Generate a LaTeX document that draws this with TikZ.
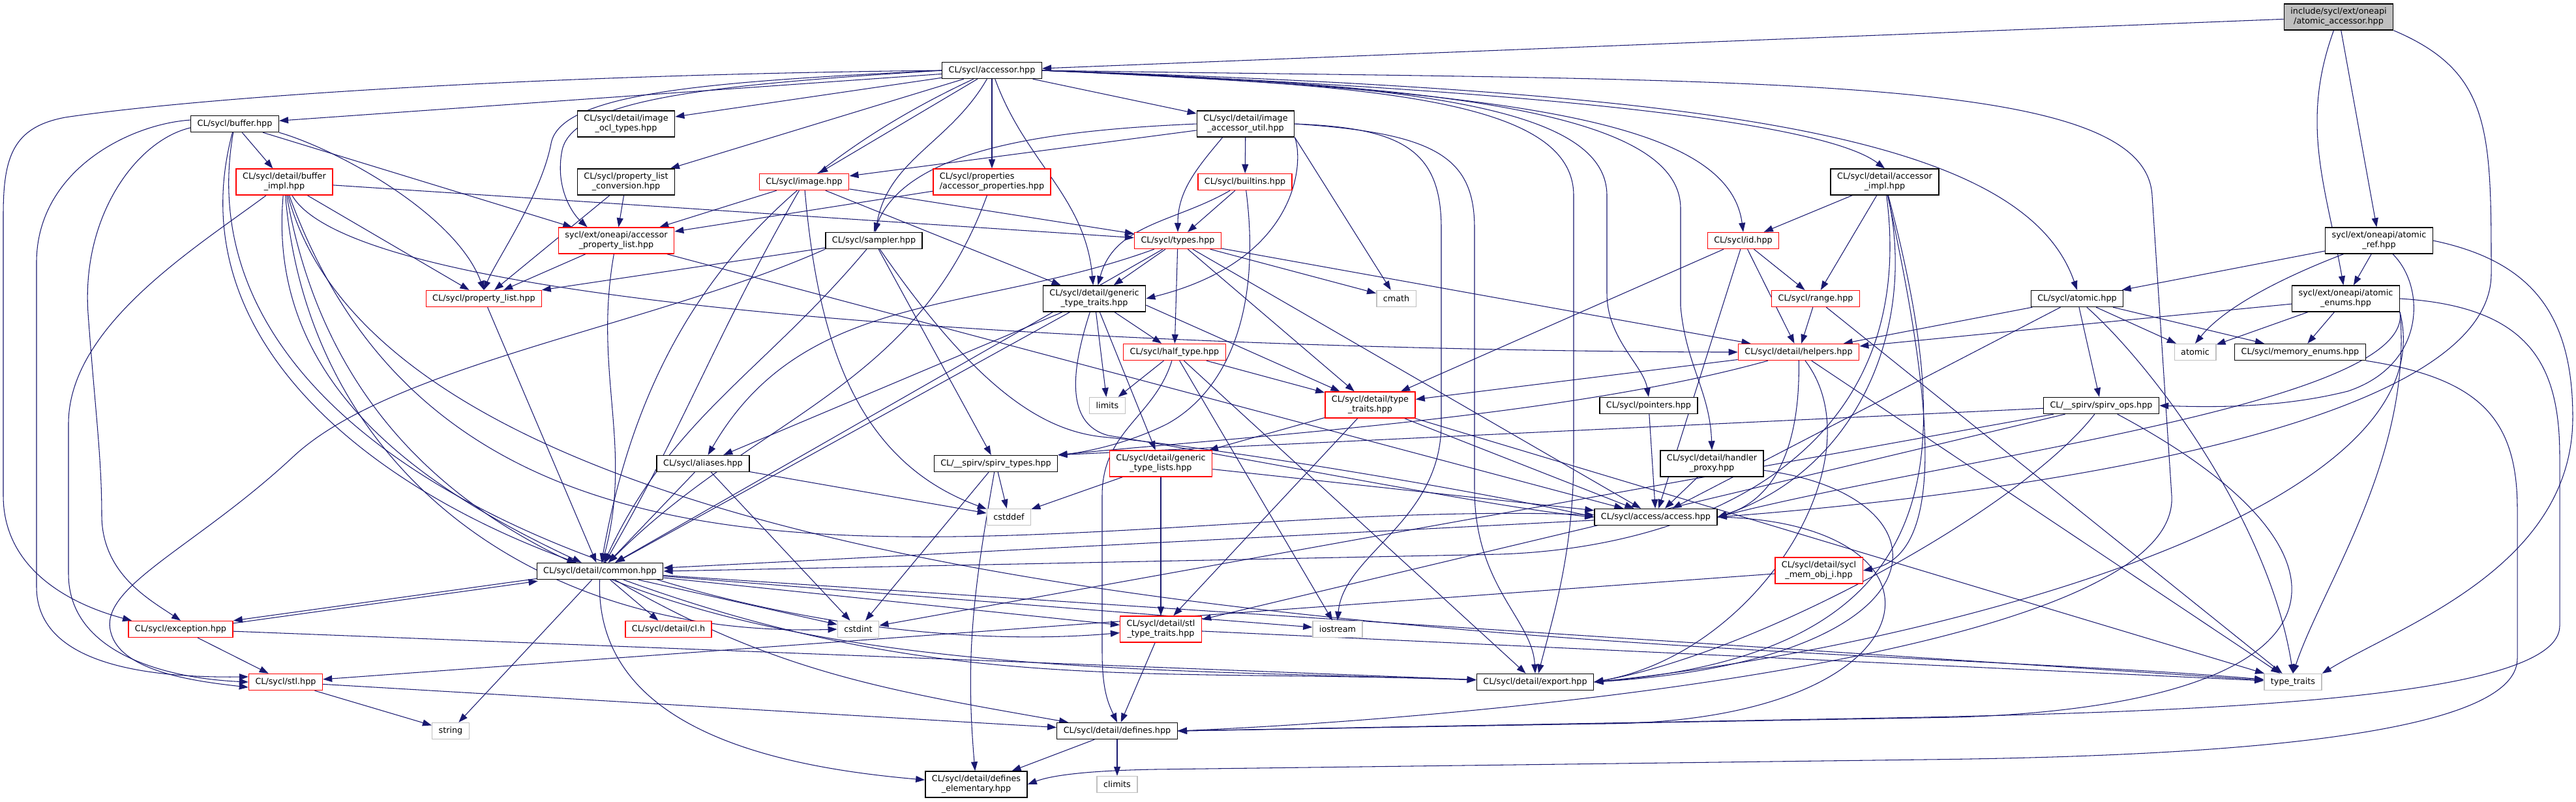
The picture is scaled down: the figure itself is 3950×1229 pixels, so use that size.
\documentclass[tikz,border=0pt]{standalone}
\usepackage{fontspec}
\setmainfont{DejaVu Sans}
\usetikzlibrary{arrows.meta}
\definecolor{edgeblue}{HTML}{191970}
\definecolor{sysgray}{HTML}{BFBFBF}
\pgfdeclarelayer{edges}
\pgfsetlayers{edges,main}

\begin{document}
\begin{tikzpicture}[x=0.01cm,y=-0.01cm,
  every node/.style={font=\fontsize{3.63pt}{4.27pt}\selectfont},
  hdr/.style={draw=black,line width=0.4pt,fill=white,inner xsep=0.1cm,inner ysep=0pt,minimum height=0.25cm,align=center},
  hdr2/.style={hdr,minimum height=0.40cm},
  cut/.style={draw=red},
  sys/.style={draw=sysgray},
  inc/.style={draw=edgeblue,line width=0.3pt,-{Triangle[length=0.14cm,width=0.1cm]}}]
\useasboundingbox (0,0) rectangle (3950,1229);

\node[hdr2,fill=sysgray] (root) at (3586,26) {include/sycl/ext/oneapi\\/atomic\_accessor.hpp};
\node[hdr] (accessor) at (1521,108) {CL/sycl/accessor.hpp};
\node[hdr] (buffer) at (360,190) {CL/sycl/buffer.hpp};
\node[hdr2] (imgocl) at (960,190) {CL/sycl/detail/image\\\_ocl\_types.hpp};
\node[hdr2] (imgutil) at (1910,190) {CL/sycl/detail/image\\\_accessor\_util.hpp};
\node[hdr2,cut] (bimpl) at (436,279) {CL/sycl/detail/buffer\\\_impl.hpp};
\node[hdr2] (plconv) at (960,279) {CL/sycl/property\_list\\\_conversion.hpp};
\node[hdr,cut] (image) at (1233,279) {CL/sycl/image.hpp};
\node[hdr2,cut,align=left] (accprops) at (1521,279) {CL/sycl/properties\\/accessor\_properties.hpp};
\node[hdr,cut] (builtins) at (1909,279) {CL/sycl/builtins.hpp};
\node[hdr2] (accimpl) at (2890,279) {CL/sycl/detail/accessor\\\_impl.hpp};
\node[hdr2,cut] (aplist) at (945,369) {sycl/ext/oneapi/accessor\\\_property\_list.hpp};
\node[hdr] (sampler) at (1340,369) {CL/sycl/sampler.hpp};
\node[hdr,cut] (types) at (1806,369) {CL/sycl/types.hpp};
\node[hdr,cut] (id) at (2673,369) {CL/sycl/id.hpp};
\node[hdr2] (atomicref) at (3648,369) {sycl/ext/oneapi/atomic\\\_ref.hpp};
\node[hdr,cut] (plist) at (742,458) {CL/sycl/property\_list.hpp};
\node[hdr2] (gtt) at (1678,458) {CL/sycl/detail/generic\\\_type\_traits.hpp};
\node[hdr,sys] (cmath) at (2141,458) {cmath};
\node[hdr,cut] (range) at (2784,458) {CL/sycl/range.hpp};
\node[hdr] (atomich) at (3185,458) {CL/sycl/atomic.hpp};
\node[hdr2] (atomicenums) at (3597,458) {sycl/ext/oneapi/atomic\\\_enums.hpp};
\node[hdr,cut] (halftype) at (1801,540) {CL/sycl/half\_type.hpp};
\node[hdr,cut] (helpers) at (2758,540) {CL/sycl/detail/helpers.hpp};
\node[hdr,sys] (atomic) at (3366,540) {atomic};
\node[hdr] (memenums) at (3527,540) {CL/sycl/memory\_enums.hpp};
\node[hdr,sys] (limits) at (1698,622) {limits};
\node[hdr2,cut] (dtt) at (2101,621) {CL/sycl/detail/type\\\_traits.hpp};
\node[hdr] (pointers) at (2528,622) {CL/sycl/pointers.hpp};
\node[hdr] (spirvops) at (3222,622) {CL/\_\_spirv/spirv\_ops.hpp};
\node[hdr] (aliases) at (1078,711) {CL/sycl/aliases.hpp};
\node[hdr] (spirvtypes) at (1527,711) {CL/\_\_spirv/spirv\_types.hpp};
\node[hdr2,cut] (gtl) at (1780,711) {CL/sycl/detail/generic\\\_type\_lists.hpp};
\node[hdr2] (hproxy) at (2625,711) {CL/sycl/detail/handler\\\_proxy.hpp};
\node[hdr,sys] (cstddef) at (1547,793) {cstddef};
\node[hdr] (access) at (2539,793) {CL/sycl/access/access.hpp};
\node[hdr] (common) at (920,876) {CL/sycl/detail/common.hpp};
\node[hdr2,cut] (memobj) at (2789,875) {CL/sycl/detail/sycl\\\_mem\_obj\_i.hpp};
\node[hdr,cut] (exception) at (277,965) {CL/sycl/exception.hpp};
\node[hdr,cut] (clh) at (1025,965) {CL/sycl/detail/cl.h};
\node[hdr,sys] (cstdint) at (1316,965) {cstdint};
\node[hdr2,cut] (stltt) at (1780,965) {CL/sycl/detail/stl\\\_type\_traits.hpp};
\node[hdr,sys] (iostream) at (2051,965) {iostream};
\node[hdr,cut] (stl) at (438,1046) {CL/sycl/stl.hpp};
\node[hdr] (export) at (2354,1046) {CL/sycl/detail/export.hpp};
\node[hdr,sys] (typetraits) at (3516,1046) {type\_traits};
\node[hdr,sys] (string) at (691,1121) {string};
\node[hdr] (defines) at (1713,1121) {CL/sycl/detail/defines.hpp};
\node[hdr2] (defel) at (1497,1203) {CL/sycl/detail/defines\\\_elementary.hpp};
\node[hdr,sys] (climits) at (1713,1203) {climits};

\begin{pgfonlayer}{edges}
% root
\draw[inc] (root) -- (accessor);
\draw[inc] (root) -- (atomicref);
\draw[inc] (root) to[out=-110,in=100] (atomicenums);
\draw[inc] (root.south east) .. controls (3820,110) and (3820,200) .. (3820,420) .. controls (3820,700) and (2800,780) .. (access.east);
% accessor
\draw[inc] (accessor) -- (buffer);
\draw[inc] (accessor) -- (imgocl);
\draw[inc] (accessor) -- (imgutil);
\draw[inc] (accessor) -- (plconv);
\draw[inc] (accessor) -- (image);
\draw[inc] (accessor) -- (accprops);
\draw[inc] (accessor) to[out=-120,in=80] (sampler);
\draw[inc] (accessor) to[out=-70,in=95] (gtt);
\draw[inc] (accessor.west) .. controls (1100,125) and (860,140) .. (845,220) .. controls (830,300) and (760,400) .. (plist.north);
\draw[inc] (accessor.west) .. controls (1100,130) and (880,150) .. (862,230) .. controls (850,290) and (880,330) .. (aplist.155);
\draw[inc] (accessor) to[out=-155,in=80] (common);
\draw[inc] (accessor.west) .. controls (800,115) and (300,150) .. (100,180) .. controls (20,195) and (5,240) .. (5,330) -- (5,760) .. controls (5,880) and (120,930) .. (exception.170);
\draw[inc] (accessor.east) .. controls (2300,140) and (2650,180) .. (id.north);
\draw[inc] (accessor.east) .. controls (2400,140) and (2800,190) .. (accimpl.north);
\draw[inc] (accessor.east) .. controls (2600,140) and (3100,200) .. (atomich.north);
\draw[inc] (accessor.east) .. controls (2150,128) and (2464,160) .. (2464,300) -- (2464,450) .. controls (2464,520) and (2520,560) .. (pointers.north);
\draw[inc] (accessor.east) .. controls (2200,130) and (2577,170) .. (2577,320) -- (2577,470) .. controls (2585,560) and (2622,600) .. (hproxy.north);
\draw[inc] (accessor.east) .. controls (2100,130) and (2413,150) .. (2413,300) -- (2413,700) .. controls (2413,850) and (2380,950) .. ([xshift=0.05cm]export.north);
\draw[inc] (accessor.east) .. controls (2700,125) and (3290,110) .. (3300,300) -- (3330,760) .. controls (3345,1000) and (2300,1100) .. (defines.east);
% image_accessor_util
\draw[inc] (imgutil) -- (builtins);
\draw[inc] ([xshift=0.4cm]imgutil.south west) to[out=-130,in=90] (types.north);
\draw[inc] (imgutil) -- (image);
\draw[inc] (imgutil.west) .. controls (1600,200) and (1390,230) .. (sampler.north);
\draw[inc] (imgutil.south east) .. controls (2000,250) and (1990,400) .. (gtt.east);
\draw[inc] (imgutil.south east) -- (cmath);
\draw[inc] (imgutil.east) .. controls (2150,196) and (2210,230) .. (2210,350) -- (2210,650) .. controls (2210,800) and (2060,850) .. (iostream.north);
\draw[inc] (imgutil.east) .. controls (2200,204) and (2261,240) .. (2261,350) -- (2261,750) .. controls (2261,900) and (2350,950) .. (export.north);
% buffer
\draw[inc] (buffer) -- (bimpl);
\draw[inc] (buffer) -- (aplist);
\draw[inc] (buffer.south east) .. controls (520,230) and (700,330) .. (plist.north);
\draw[inc] (buffer.185) .. controls (210,215) and (125,330) .. (135,480) .. controls (145,620) and (156,700) .. (156,790) .. controls (156,880) and (230,920) .. (exception.north);
\draw[inc] (buffer.175) .. controls (200,190) and (58,260) .. (56,400) -- (56,900) .. controls (56,1010) and (200,1040) .. (stl.172);
\draw[inc] (buffer) to[out=-105,in=160] (common);
\draw[inc] (buffer) to[out=-100,in=185,looseness=0.9] (stltt);
% buffer_impl
\draw[inc] (bimpl) -- (types);
\draw[inc] (bimpl) to[out=-60,in=180,looseness=0.3] (helpers);
\draw[inc] (bimpl) -- (plist);
\draw[inc] (bimpl) .. controls (300,380) and (105,500) .. (105,650) -- (105,880) .. controls (105,1000) and (250,1040) .. (stl.west);
\draw[inc] (bimpl) to[out=-95,in=155] (common);
\draw[inc] (bimpl) .. controls (470,700) and (800,980) .. (cstdint.west);
\draw[inc] (bimpl) to[out=-80,in=178] (export);
\draw[inc] (bimpl) to[out=-70,in=178] (access);
\draw[inc] (bimpl) to[out=-75,in=175,looseness=0.6] (typetraits);
% property lists
\draw[inc] (plconv) -- (plist);
\draw[inc] (plconv) -- (aplist);
\draw[inc] (aplist) -- (plist);
\draw[inc] (aplist) to[out=-100,in=75] (common);
\draw[inc] (aplist) -- (access);
\draw[inc] (plist) -- (common);
% image
\draw[inc] (image) -- (aplist);
\draw[inc] (image) -- (gtt);
\draw[inc] (image) -- (types);
\draw[inc] (image) to[out=-120,in=60] (common);
\draw[inc] (image) to[out=-85,in=160] (cstddef);
% sampler
\draw[inc] (sampler) -- (plist);
\draw[inc] (sampler.south west) .. controls (1000,500) and (600,560) .. (450,700) .. controls (300,840) and (150,900) .. (170,970) .. controls (185,1030) and (300,1045) .. (stl.188);
\draw[inc] (sampler) to[out=-130,in=65] (common);
\draw[inc] (sampler) -- (spirvtypes);
\draw[inc] (sampler) .. controls (1500,600) and (1600,660) .. (1690,670) .. controls (1900,690) and (2300,760) .. (access.west);
% accessor_properties, builtins
\draw[inc] (accprops) -- (aplist);
\draw[inc] (accprops) to[out=-110,in=45] (common);
\draw[inc] (builtins) -- (types);
\draw[inc] (builtins) to[out=-150,in=75] (gtt);
\draw[inc] (builtins) .. controls (1935,480) and (1880,600) .. (1790,650) .. controls (1720,685) and (1650,695) .. (spirvtypes.north east);
% accessor_impl
\draw[inc] (accimpl) -- (id);
\draw[inc] (accimpl) -- (range);
\draw[inc] (accimpl) .. controls (2940,500) and (2850,720) .. (access.east);
\draw[inc] (accimpl) .. controls (2960,600) and (2990,850) .. (memobj.east);
\draw[inc] (accimpl) .. controls (3000,700) and (3000,1000) .. (export.east);
\draw[inc] (accimpl) .. controls (2945,700) and (2600,840) .. (2300,850) -- (common.east);
% types
\draw[inc] (types) to[out=200,in=60] (aliases);
\draw[inc] (types) -- (common);
\draw[inc] (types) -- (gtt);
\draw[inc] (types) -- (halftype);
\draw[inc] (types) -- (cmath);
\draw[inc] (types) -- (helpers);
\draw[inc] (types) -- (dtt);
\draw[inc] (types) -- (access);
% generic_type_traits
\draw[inc] (gtt) -- (aliases);
\draw[inc] (gtt) -- (common);
\draw[inc] (gtt) -- (gtl);
\draw[inc] ([yshift=-0.1cm]gtt.east) -- (dtt);
\draw[inc] (gtt) -- (halftype);
\draw[inc] (gtt) -- (limits);
\draw[inc] (gtt) .. controls (1645,560) and (1630,650) .. (1700,668) .. controls (1900,700) and (2300,780) .. (access.west);
% half_type
\draw[inc] (halftype) -- (limits);
\draw[inc] (halftype) .. controls (1770,640) and (1690,660) .. (1690,760) -- (1690,1000) .. controls (1690,1060) and (1700,1080) .. (defines.north);
\draw[inc] (halftype) -- (iostream);
\draw[inc] (halftype) -- (export);
\draw[inc] (halftype) -- (dtt);
% id, range, helpers
\draw[inc] (id) -- (dtt);
\draw[inc] (id) -- (range);
\draw[inc] (id) -- (helpers);
\draw[inc] (id) -- (access);
\draw[inc] (range) -- (helpers);
\draw[inc] (range) -- (typetraits);
\draw[inc] (helpers) -- (dtt);
\draw[inc] (helpers) .. controls (2400,640) and (1900,670) .. (spirvtypes.north east);
\draw[inc] (helpers) .. controls (2760,650) and (2740,760) .. (access.east);
\draw[inc] (helpers) .. controls (2880,700) and (2700,1000) .. (export.east);
\draw[inc] (helpers) -- (typetraits);
% type traits and lists
\draw[inc] (dtt) -- (access);
\draw[inc] (dtt) -- (gtl);
\draw[inc] (dtt) -- (stltt);
\draw[inc] (dtt) -- (typetraits);
\draw[inc] (gtl) -- (cstddef);
\draw[inc] (gtl) -- (stltt);
\draw[inc] (gtl) -- (access);
\draw[inc] (aliases) -- (common);
\draw[inc] (aliases) -- (cstddef);
\draw[inc] (aliases) -- (cstdint);
% spirv
\draw[inc] (spirvtypes) -- (cstddef);
\draw[inc] (spirvtypes) -- (cstdint);
\draw[inc] (spirvtypes) to[out=-100,in=95] (defel);
\draw[inc] (spirvops) -- (spirvtypes.north east);
\draw[inc] (spirvops) -- (cstdint);
\draw[inc] (spirvops) -- (stltt);
\draw[inc] (spirvops) .. controls (3100,780) and (2700,1000) .. (export.east);
\draw[inc] (spirvops) .. controls (3650,850) and (3620,1080) .. (3000,1100) -- (defines.east);
% atomics
\draw[inc] (atomich) -- (atomic);
\draw[inc] (atomich) -- (memenums);
\draw[inc] (atomich) -- (spirvops);
\draw[inc] (atomich) -- (helpers);
\draw[inc] (atomich) -- (access);
\draw[inc] (atomich) .. controls (3300,560) and (3480,800) .. (typetraits.north);
\draw[inc] (atomicref) -- (atomich);
\draw[inc] (atomicref) -- (atomicenums);
\draw[inc] (atomicref) .. controls (3540,410) and (3420,460) .. (atomic.north);
\draw[inc] (atomicref) .. controls (3720,440) and (3720,560) .. (3600,600) .. controls (3500,625) and (3400,625) .. (spirvops.east);
\draw[inc] (atomicref.east) .. controls (3880,400) and (3945,480) .. (3945,640) .. controls (3945,870) and (3680,960) .. (typetraits.north east);
\draw[inc] (atomicenums) -- (helpers);
\draw[inc] (atomicenums) -- (atomic);
\draw[inc] (atomicenums) -- (memenums);
\draw[inc] (atomicenums.south east) .. controls (3700,620) and (3000,700) .. (access.east);
\draw[inc] (atomicenums.south east) .. controls (3700,700) and (3560,900) .. (typetraits.north);
\draw[inc] (atomicenums.south east) .. controls (3760,800) and (2900,1000) .. (export.east);
\draw[inc] (atomicenums.east) .. controls (3880,470) and (3925,560) .. (3925,700) -- (3925,960) .. controls (3925,1070) and (3400,1090) .. (2950,1100) -- (defines.east);
\draw[inc] (memenums.south east) .. controls (3800,580) and (3860,640) .. (3860,780) -- (3860,1010) .. controls (3860,1130) and (3400,1160) .. (2950,1165) -- (1770,1180) .. controls (1660,1182) and (1610,1190) .. (defel.east);
% pointers, handler_proxy, access
\draw[inc] (pointers) -- (access);
\draw[inc] (hproxy) -- (access);
\draw[inc] (hproxy) .. controls (3000,760) and (3000,1010) .. (export.east);
\draw[inc] (access) -- (common);
\draw[inc] (access.east) .. controls (3020,800) and (2980,1110) .. (2450,1110) -- (defines.east);
% common
\draw[inc,transform canvas={yshift=0.02cm}] (common) -- (exception);
\draw[inc,transform canvas={yshift=-0.02cm}] (exception) -- (common);
\draw[inc] (common) -- (string);
\draw[inc] (common) -- (clh);
\draw[inc] (common) -- (cstdint);
\draw[inc] (common) -- (stltt);
\draw[inc] (common) -- (iostream);
\draw[inc] (common) to[out=-20,in=178] (export);
\draw[inc] (common) to[out=-30,in=170] (defines);
\draw[inc] (common) to[out=-92,in=175] (defel);
\draw[inc] (common) -- (typetraits);
% bottom rows
\draw[inc] (exception) -- (stl);
\draw[inc] (exception) -- (export);
\draw[inc] (stl) -- (string);
\draw[inc] (stl) -- (defines);
\draw[inc] (stltt) -- (typetraits);
\draw[inc] (stltt) -- (defines);
\draw[inc] (memobj) -- (stl);
\draw[inc] (defines) -- (climits);
\draw[inc] (defines) -- (defel);
\end{pgfonlayer}
\end{tikzpicture}
\end{document}
